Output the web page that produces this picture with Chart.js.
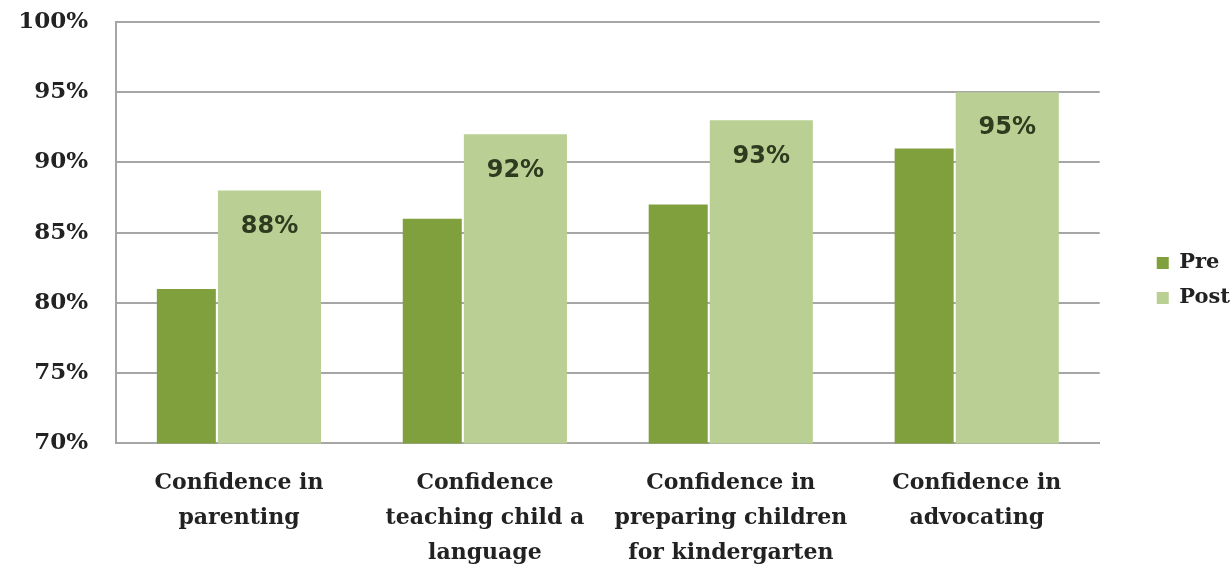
<!DOCTYPE html>
<html>
<head>
<meta charset="utf-8">
<script src="https://cdn.jsdelivr.net/npm/chart.js@4.4.1/dist/chart.umd.min.js"></script>
<style>
  html, body { margin: 0; padding: 0; background: #fff; }
  #wrap { width: 1230px; height: 572px; }
</style>
</head>
<body>
<div id="wrap"><canvas id="confidence"></canvas></div>
<script>
const categories = [
    ['Confidence in', 'parenting'],
    ['Confidence', 'teaching child a', 'language'],
    ['Confidence in', 'preparing children', 'for kindergarten'],
    ['Confidence in', 'advocating']
];
const preValues = [81, 86, 87, 91];
const postValues = [88, 92, 93, 95];
const yTicks = [70, 75, 80, 85, 90, 95, 100];

// bars in the source sit side by side but with unequal widths,
// so the x axis is linear and each series is nudged off the centre
const preShift = -0.214;
const postShift = 0.124;

const gridColor = '#a6a6a6';

const postLabels = {
    id: 'postLabels',
    afterDatasetsDraw(chart) {
        const c = chart.ctx;
        const meta = chart.getDatasetMeta(1);
        c.save();
        c.font = 'bold 24px "DejaVu Sans"';
        c.fillStyle = '#2e3b1f';
        c.textAlign = 'center';
        c.textBaseline = 'middle';
        meta.data.forEach((bar, i) => {
            c.fillText(postValues[i] + '%', bar.x, bar.y + 36);
        });
        c.restore();
    }
};

// push the legend toward the right edge like in the original
const legendNudge = {
    id: 'legendNudge',
    afterLayout(chart) {
        const lg = chart.legend;
        if (!lg) return;
        lg.left += 43; lg.right += 43;
        lg.top -= 23; lg.bottom -= 23;
    }
};

const ctx = document.getElementById('confidence').getContext('2d');
const confidenceChart = new Chart(ctx, {
    type: 'bar',
    data: {
        datasets: [{
            label: 'Pre',
            data: preValues.map((v, i) => ({ x: i + 0.5 + preShift, y: v })),
            backgroundColor: '#80a03e',
            barPercentage: 0.71,
            categoryPercentage: 1
        }, {
            label: 'Post',
            data: postValues.map((v, i) => ({ x: i + 0.5 + postShift, y: v })),
            backgroundColor: '#bacf93',
            barPercentage: 1.24,
            categoryPercentage: 1
        }]
    },
    options: {
        responsive: true,
        maintainAspectRatio: false,
        animation: false,
        grouped: false,
        layout: {
            padding: { top: 22, left: 0, right: 33, bottom: -13 }
        },
        plugins: {
            tooltip: { enabled: false },
            legend: {
                position: 'right',
                labels: {
                    boxWidth: 12,
                    boxHeight: 12,
                    padding: 14,
                    color: '#222',
                    font: { family: '"DejaVu Serif"', size: 21, weight: 'bold' }
                }
            }
        },
        scales: {
            x: {
                type: 'linear',
                min: 0,
                max: 4,
                offset: false,
                afterBuildTicks: axis => {
                    axis.ticks = categories.map((c, i) => ({ value: i + 0.5 }));
                },
                grid: { display: false },
                border: { display: true, color: gridColor, width: 2 },
                ticks: {
                    autoSkip: false,
                    maxRotation: 0,
                    padding: 14,
                    color: '#222',
                    callback: value => categories[Math.floor(value)],
                    font: { family: '"DejaVu Serif"', size: 22, weight: 'bold', lineHeight: 1.6 }
                }
            },
            y: {
                min: 70,
                max: 100,
                afterBuildTicks: axis => {
                    axis.ticks = yTicks.map(v => ({ value: v }));
                },
                afterFit: axis => { axis.width = 116; },
                grid: {
                    color: gridColor,
                    lineWidth: 2,
                    drawTicks: true,
                    tickLength: 28,
                    tickColor: 'rgba(0,0,0,0)'
                },
                border: { display: true, color: gridColor, width: 2 },
                ticks: {
                    padding: 0,
                    color: '#222',
                    callback: value => value + '%',
                    font: { family: '"DejaVu Serif"', size: 23, weight: 'bold' }
                }
            }
        }
    },
    plugins: [postLabels, legendNudge]
});
</script>
</body>
</html>
